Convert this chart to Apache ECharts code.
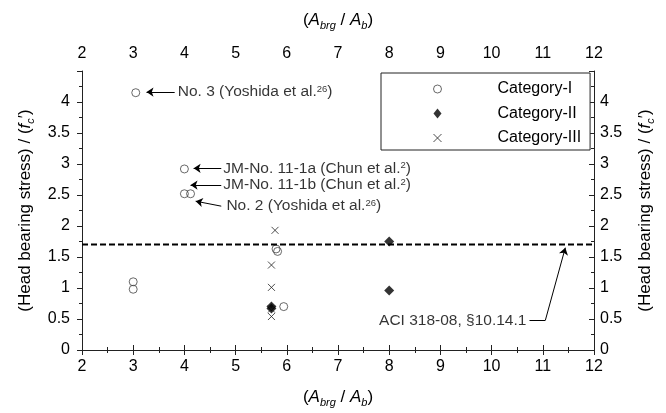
<!DOCTYPE html>
<html>
<head>
<meta charset="utf-8">
<script src="https://cdn.jsdelivr.net/npm/echarts@6/dist/echarts.min.js"></script>
<style>
html, body { margin: 0; padding: 0; background: #fff; }
#container { width: 666px; height: 413px; }
</style>
</head>
<body>
<div id="container"></div>
<script>
// values
var cat1 = [[3.05, 4.15], [3, 1.10], [3, 0.98], [4.0, 2.92], [4.0, 2.52], [4.12, 2.52],
            [5.79, 1.63], [5.82, 1.59], [5.94, 0.70]];
var cat2 = [[8, 1.75], [8, 0.96], [5.7, 0.70], [5.7, 0.67]];
var cat3 = [[5.77, 1.93], [5.7, 1.37], [5.7, 1.01], [5.7, 0.66], [5.7, 0.54]];
var aciLimit = 1.7;
var xTicks = [2, 12, 1];
var yTicks = [0, 4.5, 0.5];

// annotation labels and their arrows (data coords)
var noteText = [
    'No. 3 (Yoshida et al.{sup|26})',
    'JM-No. 11-1a (Chun et al.{sup|2})',
    'JM-No. 11-1b (Chun et al.{sup|2})',
    'No. 2 (Yoshida et al.{sup|26})',
    'ACI 318-08, \u00a710.14.1'
];
var notePos = [[3.87, 4.16], [4.76, 2.93], [4.76, 2.66], [4.82, 2.32], [10.68, 0.48]];
var arrows = [
    [[3.81, 4.16], [3.26, 4.16]],
    [[4.72, 2.93], [4.18, 2.93]],
    [[4.72, 2.66], [4.12, 2.66]],
    [[4.72, 2.32], [4.22, 2.40]],
    [[11.05, 0.48], [11.44, 1.65]]
];
var aciTail = [[10.74, 0.48], [11.05, 0.48]];

var font = 'Liberation Sans, Arial, sans-serif';
var crossPath = 'path://M0,0L10,10M10,0L0,10';

var xName = '{n|(}{i|A}{s|brg}{n| / }{i|A}{s|b}{n|)}';
var yName = '{n|(Head bearing stress) / (}{i|f}{s|c}{n|\u2032)}';
var nameRich = {
    n: { fontSize: 17, fontFamily: font, color: '#000', lineHeight: 22 },
    i: { fontSize: 17, fontFamily: font, fontStyle: 'italic', color: '#000', lineHeight: 22 },
    s: { fontSize: 11, fontFamily: font, fontStyle: 'italic', color: '#000', verticalAlign: 'bottom', lineHeight: 14 }
};

function xAxis(pos, gap) {
    return {
        type: 'value', position: pos, min: xTicks[0], max: xTicks[1], interval: xTicks[2],
        name: xName, nameLocation: 'middle', nameGap: gap,
        nameTextStyle: { rich: nameRich },
        axisLine: { lineStyle: { color: '#222', width: 1 } },
        axisTick: { inside: false, length: 5, lineStyle: { color: '#222' } },
        minorTick: { show: true, splitNumber: 2, length: 3, lineStyle: { color: '#222' } },
        splitLine: { show: false },
        axisLabel: { fontSize: 16, fontFamily: font, color: '#000', margin: 9 }
    };
}
function yAxis(pos, inside, gap) {
    return {
        type: 'value', position: pos, min: yTicks[0], max: yTicks[1], interval: yTicks[2],
        name: yName, nameLocation: 'middle', nameGap: gap, nameRotate: 90,
        nameTextStyle: { rich: nameRich },
        axisLine: { show: true, lineStyle: { color: '#222', width: 1 } },
        axisTick: { show: true, inside: inside, length: 5, lineStyle: { color: '#222' } },
        minorTick: { show: true, splitNumber: 2, length: 3, lineStyle: { color: '#222' } },
        splitLine: { show: false },
        axisLabel: {
            fontSize: 16, fontFamily: font, color: '#000', margin: inside ? 6 : 12,
            formatter: function (v) { return v === 4.5 ? '' : String(v); }
        }
    };
}

var arrowLines = arrows.map(function (a) {
    return [{ coord: a[0], symbol: 'none' }, { coord: a[1], symbol: 'arrow' }];
});
arrowLines.push([{ coord: aciTail[0], symbol: 'none' }, { coord: aciTail[1], symbol: 'none' }]);

var noteData = notePos.map(function (p, i) {
    return {
        value: p, name: noteText[i],
        label: { position: i === 4 ? 'left' : 'right' }
    };
});

var myChart = echarts.init(document.getElementById('container'));
var option = {
    animation: false,
    backgroundColor: '#fff',
    grid: { left: 82, right: 72, top: 71, bottom: 61 },
    xAxis: [xAxis('bottom', 36), xAxis('top', 40)],
    yAxis: [yAxis('left', false, 46), yAxis('right', true, 40)],
    legend: {
        data: [
            { name: 'Category-I', itemStyle: { borderWidth: 1 } },
            { name: 'Category-II' },
            { name: 'Category-III', itemStyle: { borderWidth: 1 } }
        ],
        orient: 'vertical', left: 381, top: 73,
        padding: [8, 9, 4, 52],
        itemWidth: 8, itemHeight: 10, itemGap: 8.5,
        backgroundColor: '#fff', borderColor: '#222', borderWidth: 1, borderRadius: 0,
        textStyle: { fontSize: 16, fontFamily: font, color: '#000', padding: [0, 0, 0, 51] }
    },
    series: [
        {
            name: 'ACI', type: 'line', data: [[xTicks[0], aciLimit], [xTicks[1], aciLimit]],
            symbol: 'none', silent: true,
            lineStyle: { color: '#000', width: 2, type: [6, 3] }
        },
        {
            name: 'Category-I', type: 'scatter', data: cat1,
            symbol: 'circle', symbolSize: 8,
            itemStyle: { color: 'transparent', borderColor: '#444', borderWidth: 1 }
        },
        {
            name: 'Category-II', type: 'scatter', data: cat2,
            symbol: 'diamond', symbolSize: 10,
            itemStyle: { color: '#000' }
        },
        {
            name: 'Category-III', type: 'scatter', data: cat3,
            symbol: crossPath, symbolSize: 7,
            itemStyle: { color: 'transparent', borderColor: '#222', borderWidth: 1 }
        },
        {
            name: 'notes', type: 'scatter', data: noteData, symbolSize: 0, silent: true,
            label: {
                show: true, distance: 0, fontSize: 15.5, fontFamily: font, color: '#000',
                formatter: function (p) { return p.name; },
                rich: { sup: { fontSize: 9.5, fontFamily: font, color: '#000', verticalAlign: 'top', lineHeight: 12 } }
            },
            markLine: {
                silent: true, symbolSize: 7, precision: 3,
                label: { show: false },
                lineStyle: { color: '#000', width: 1, type: 'solid' },
                data: arrowLines
            }
        }
    ]
};
myChart.setOption(option);
</script>
</body>
</html>
